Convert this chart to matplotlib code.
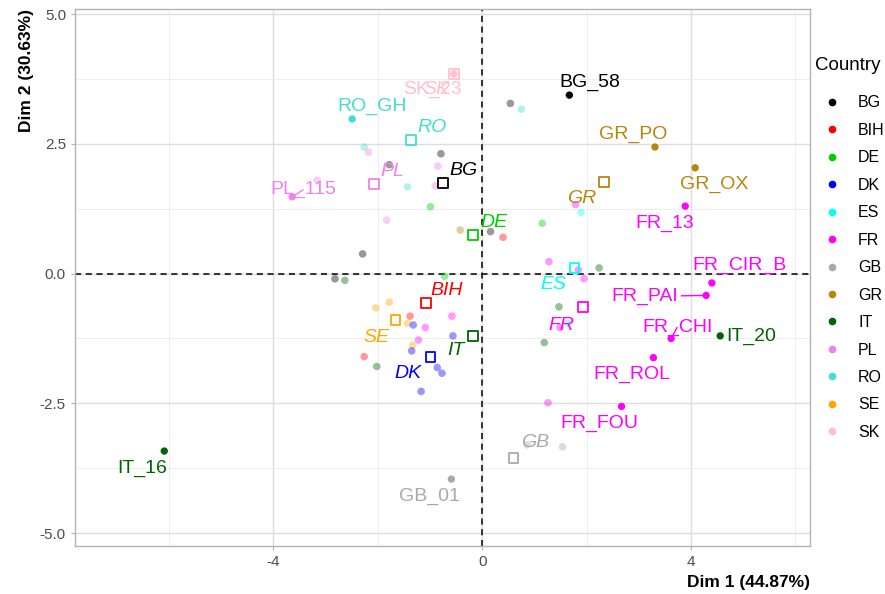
import matplotlib
matplotlib.use('Agg')
import matplotlib.pyplot as plt
from matplotlib.lines import Line2D
from matplotlib.ticker import MultipleLocator, FixedLocator

plt.rcParams['font.family'] = ['Liberation Sans', 'DejaVu Sans']
plt.rcParams['axes.unicode_minus'] = False

countries = ['BG', 'BIH', 'DE', 'DK', 'ES', 'FR', 'GB', 'GR', 'IT', 'PL', 'RO', 'SE', 'SK']
palette = {'BG': '#000000', 'BIH': '#FF0000', 'DE': '#00CD00', 'DK': '#0000FF',
           'ES': '#00FFFF', 'FR': '#FF00FF', 'GB': '#A9A9A9', 'GR': '#B8860B',
           'IT': '#006400', 'PL': '#EE82EE', 'RO': '#40E0D0', 'SE': '#FFA500',
           'SK': '#FFC0CB'}

# individuals shown faded (no label)
bg_country = ['RO', 'PL', 'BG', 'BG', 'PL', 'PL', 'RO', 'PL', 'DE', 'PL',
              'BG', 'GR', 'BG', 'BIH', 'DE', 'FR', 'ES', 'FR', 'FR', 'FR',
              'IT', 'IT', 'IT', 'FR', 'FR', 'GB', 'GB', 'BG', 'RO', 'BG',
              'IT', 'DE', 'SE', 'SE', 'BIH', 'SE', 'DK', 'FR', 'FR', 'FR',
              'SE', 'DK', 'DK', 'BIH', 'IT', 'DK', 'DK', 'DK', 'ES']
bg_x = [-2.26, -2.18, -0.79, -1.78, -0.85, -0.90, -1.43, -3.16, -0.99, -1.83,
        -2.29, -0.42, 0.16, 0.40, 1.15, 1.79, 1.89, 1.28, 1.84, 1.95,
        2.24, 1.47, 1.19, 1.49, 1.26, 1.54, 0.86, 0.54, 0.75, -2.82,
        -2.63, -0.72, -1.78, -2.04, -1.38, -1.43, -1.32, -0.58, -1.09, -1.22,
        -1.33, -1.35, -0.56, -2.26, -2.02, -0.86, -0.77, -1.17, 1.65]
bg_y = [2.44, 2.34, 2.31, 2.10, 2.07, 1.69, 1.67, 1.80, 1.29, 1.03,
        0.38, 0.84, 0.81, 0.70, 0.97, 1.33, 1.18, 0.23, 0.07, -0.10,
        0.11, -0.64, -1.33, -1.04, -2.49, -3.34, -3.30, 3.28, 3.17, -0.10,
        -0.13, -0.05, -0.55, -0.66, -0.82, -0.96, -0.99, -0.82, -1.04, -1.28,
        -1.38, -1.49, -1.20, -1.60, -1.79, -1.81, -1.92, -2.27, -0.96]

# labelled individuals
ind_names = ['BG_58', 'GR_PO', 'GR_OX', 'FR_13', 'FR_CIR_B', 'FR_PAI', 'FR_CHI',
             'IT_20', 'FR_ROL', 'FR_FOU', 'GB_01', 'IT_16', 'RO_GH', 'PL_115', 'SK_23']
ind_country = ['BG', 'GR', 'GR', 'FR', 'FR', 'FR', 'FR',
               'IT', 'FR', 'FR', 'GB', 'IT', 'RO', 'PL', 'SK']
ind_x = [1.67, 3.31, 4.08, 3.89, 4.40, 4.29, 3.62, 4.56, 3.28, 2.67, -0.59, -6.09, -2.49, -3.64, -0.54]
ind_y = [3.44, 2.44, 2.04, 1.30, -0.18, -0.42, -1.25, -1.20, -1.62, -2.56, -3.96, -3.42, 2.98, 1.48, 3.85]

# country means
mean_x = [-0.75, -1.08, -0.17, -0.99, 1.77, 1.93, 0.60, 2.33, -0.17, -2.08, -1.36, -1.66, -0.54]
mean_y = [1.74, -0.56, 0.74, -1.61, 0.11, -0.65, -3.55, 1.76, -1.21, 1.73, 2.57, -0.90, 3.85]

# label offsets in pixels (repel-style placement)
ind_offsets = {'BG_58': (20, 13), 'GR_PO': (-22, 13), 'GR_OX': (19, -17), 'FR_13': (-21, -17),
               'FR_CIR_B': (28, 18), 'FR_PAI': (-61, -1), 'FR_CHI': (6, 11), 'IT_20': (31, -1),
               'FR_ROL': (-22, -17), 'FR_FOU': (-22, -17), 'GB_01': (-22, -17),
               'IT_16': (-22, -17), 'RO_GH': (20, 13), 'PL_115': (11, 7), 'SK_23': (-22, -16)}
mean_offsets = {'BG': (20, 13), 'BIH': (21, 12), 'DE': (21, 13), 'DK': (-23, -16),
                'ES': (-21, -17), 'FR': (-22, -18), 'GB': (22, 15), 'GR': (-22, -16),
                'IT': (-17, -14), 'PL': (19, 12), 'RO': (21, 13), 'SE': (-19, -17),
                'SK': (-18, -16)}
with_segment = {'FR_PAI', 'FR_CHI', 'PL_115'}

fig = plt.figure(figsize=(8.85, 5.94), dpi=100)
ax = fig.add_axes([75 / 885, 48 / 594, 735 / 885, 537 / 594])

ax.set_xlim(-7.80, 6.28)
ax.set_ylim(-5.25, 5.10)

ax.xaxis.set_major_locator(FixedLocator([-4, 0, 4]))
ax.xaxis.set_minor_locator(FixedLocator([-6, -2, 2, 6]))
ax.yaxis.set_major_locator(MultipleLocator(2.5))
ax.yaxis.set_minor_locator(FixedLocator([-3.75, -1.25, 1.25, 3.75]))
ax.yaxis.set_major_formatter(plt.FuncFormatter(lambda v, p: f'{v:.1f}'))
ax.grid(True, which='major', color='#DEDEDE', lw=1.0)
ax.grid(True, which='minor', color='#EBEBEB', lw=0.6)
ax.set_axisbelow(True)
ax.tick_params(which='major', length=3, color='#B3B3B3', labelsize=11, labelcolor='#4D4D4D')
ax.tick_params(which='minor', length=0)
for s in ax.spines.values():
    s.set_color('#B3B3B3')
    s.set_linewidth(1.0)

ax.axhline(0, color='black', lw=1.1, ls=(0, (4, 3)), zorder=1.5)
ax.axvline(0, color='black', lw=1.1, ls=(0, (4, 3)), zorder=1.5)

ax.scatter(bg_x, bg_y, c=[palette[c] for c in bg_country], s=30, alpha=0.4,
           linewidths=0, zorder=2)
ax.scatter(ind_x, ind_y, c=[palette[c] for c in ind_country], s=28,
           linewidths=0, zorder=3)
ax.scatter(mean_x, mean_y, marker='s', s=50, facecolors='none',
           edgecolors=[palette[c] for c in countries], linewidths=1.3, zorder=4)

for name, c, x, y in zip(ind_names, ind_country, ind_x, ind_y):
    dx, dy = ind_offsets[name]
    arrow = None
    if name in with_segment:
        arrow = dict(arrowstyle='-', color=palette[c], lw=1.0, shrinkA=0, shrinkB=2)
    ax.annotate(name, (x, y), xytext=(dx, dy), textcoords='offset pixels',
                ha='center', va='center', fontsize=14, color=palette[c],
                arrowprops=arrow, zorder=5)

for c, x, y in zip(countries, mean_x, mean_y):
    dx, dy = mean_offsets[c]
    ax.annotate(c, (x, y), xytext=(dx, dy), textcoords='offset pixels',
                ha='center', va='center', fontsize=14, style='italic',
                color=palette[c], zorder=5)

ax.set_xlabel('Dim 1 (44.87%)', loc='right', fontsize=12.5, fontweight='bold', labelpad=4)
ax.set_ylabel('Dim 2 (30.63%)', loc='top', fontsize=12.5, fontweight='bold', labelpad=4)

# legend: title as separate text, keys below it
fig.text(815 / 885, 1 - 66 / 594, 'Country', fontsize=13.5, ha='left', va='center')
handles = [Line2D([], [], marker='o', ls='', color=palette[c], markersize=4.5) for c in countries]
fig.legend(handles, countries, loc='upper left', bbox_to_anchor=(816 / 885, 1 - 89 / 594),
           frameon=False, fontsize=11.5, labelspacing=0.78, handlelength=1.2,
           handletextpad=1.03, borderaxespad=0)

fig.savefig('out.png', dpi=100)
